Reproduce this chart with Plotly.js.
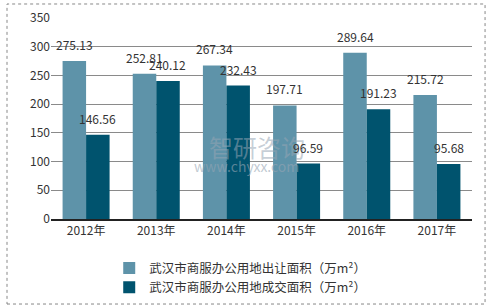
<!DOCTYPE html>
<html><head><meta charset="utf-8">
<script src="https://cdn.plot.ly/plotly-3.0.1.min.js"></script>
<style>html,body{margin:0;padding:0;background:#fff}#c{width:492px;height:307px}</style>
</head><body><div id="c"></div>
<script>
const categories = ['2012年','2013年','2014年','2015年','2016年','2017年'];
const seriesNames = ['武汉市商服办公用地出让面积（万m²）','武汉市商服办公用地成交面积（万m²）'];
const supplyArea = [275.13, 252.81, 267.34, 197.71, 289.64, 215.72];
const dealArea = [146.56, 240.12, 232.43, 96.59, 191.23, 95.68];
const yTicks = [0, 50, 100, 150, 200, 250, 300, 350];

const font = '"Noto Sans CJK SC", "Liberation Sans", sans-serif';
const colors = ['#5E93A9', '#00536E'];

const traces = [supplyArea, dealArea].map((vals, i) => ({
  type: 'bar', x: categories, y: vals, name: seriesNames[i],
  marker: {color: colors[i]}, hoverinfo: 'skip'
}));

const annotations = [];
annotations.push({xref:'paper', yref:'paper', x:0.49, y:0.36, xanchor:'center', yanchor:'middle',
  text:'智研咨询', showarrow:false,
  font:{family:font, size:24, color:'rgba(150,165,180,0.55)'}});
annotations.push({xref:'paper', yref:'paper', x:0.465, y:0.262, xanchor:'center', yanchor:'middle',
  text:'www.chyxx.com', showarrow:false,
  font:{family:font, size:14, color:'rgba(150,165,180,0.6)'}});
[supplyArea, dealArea].forEach((vals, i) => {
  vals.forEach((v, j) => {
    annotations.push({
      x: categories[j], y: v, xref: 'x', yref: 'y',
      text: v.toFixed(2), showarrow: false, yanchor: 'bottom',
      xshift: i === 0 ? -11.7 : 11.7, yshift: 6,
      font: {family: font, size: 12, color: '#333'}
    });
  });
});

const layout = {
  width: 492, height: 307,
  margin: {l: 51, r: 20, t: 18, b: 88, autoexpand: false},
  paper_bgcolor: '#fff', plot_bgcolor: '#fff',
  barmode: 'group', bargap: 0.33, bargroupgap: 0,
  font: {family: font, size: 12, color: '#333'},
  showlegend: true,
  legend: {orientation: 'v', xref: 'container', yref: 'container', x: 0.222, xanchor: 'left',
    y: 0.175, yanchor: 'top',
    font: {family: font, size: 12.5, color: '#333'}, itemwidth: 30, tracegroupgap: 0,
    traceorder: 'normal'},
  xaxis: {type: 'category', showline: true, linecolor: '#222', linewidth: 1.5,
    ticks: '', tickfont: {family: font, size: 12, color: '#333'}, fixedrange: true},
  yaxis: {range: [0, 350], tickvals: yTicks, ticktext: yTicks.map(String),
    showgrid: true, gridcolor: '#8a8a8a', gridwidth: 1, zeroline: false,
    showline: false, ticks: '', tickfont: {family: font, size: 12, color: '#333'}},
  annotations: annotations,
  shapes: [{type: 'rect', xref: 'paper', yref: 'paper',
    x0: -0.1045, x1: 1.031, y0: -0.423, y1: 1.0697,
    line: {color: '#888', width: 1, dash: 'dot'}}]
};
Plotly.newPlot('c', traces, layout, {displayModeBar: false, staticPlot: true});
</script></body></html>
